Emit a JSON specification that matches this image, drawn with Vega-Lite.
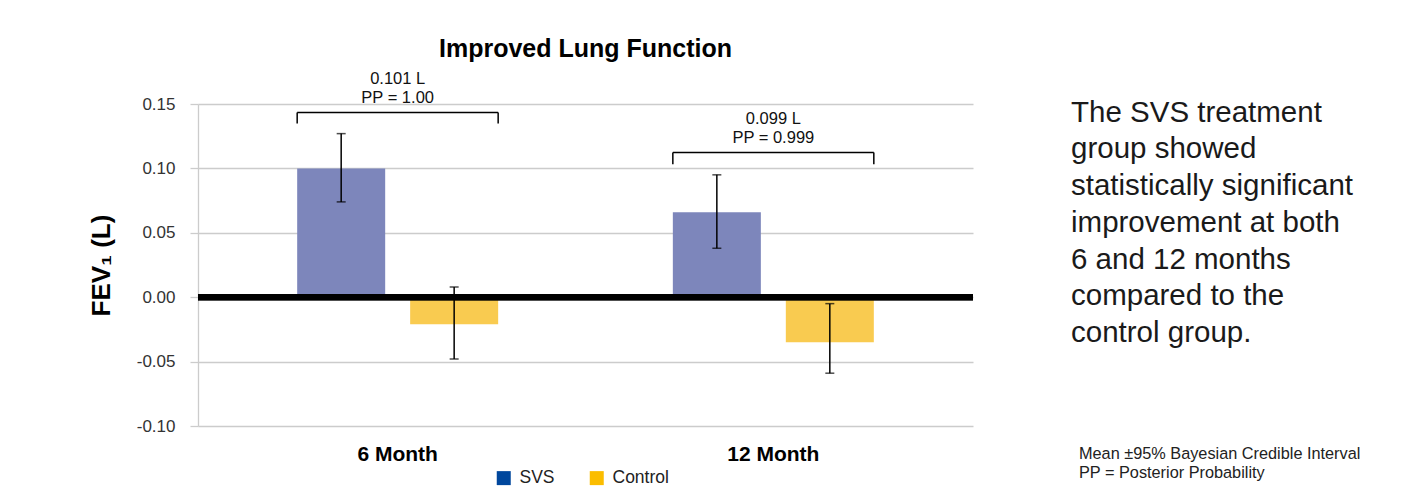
{
  "$schema": "https://vega.github.io/schema/vega-lite/v6.json",
  "background": "white",
  "padding": {"left": 88, "top": 36, "right": 5, "bottom": 5},
  "config": {"font": "Liberation Sans", "view": {"stroke": null}},
  "bounds": "flush",
  "spacing": 97,
  "hconcat": [
    {
      "width": 775,
      "height": 322,
      "title": {"text": "Improved Lung Function", "fontSize": 25, "fontWeight": "bold", "color": "#000000", "anchor": "middle", "frame": "group", "offset": 9},
      "data": {"values": [
        {"month": "6 Month", "group": "SVS", "mean": 0.100, "lo": 0.074, "hi": 0.127},
        {"month": "6 Month", "group": "Control", "mean": -0.021, "lo": -0.048, "hi": 0.008},
        {"month": "12 Month", "group": "SVS", "mean": 0.066, "lo": 0.038, "hi": 0.095},
        {"month": "12 Month", "group": "Control", "mean": -0.035, "lo": -0.059, "hi": -0.005}
      ]},
      "layer": [
        {
          "mark": {"type": "point", "shape": "square", "filled": true, "opacity": 0},
          "encoding": {
            "x": {"field": "month", "type": "nominal", "sort": ["6 Month", "12 Month"], "title": null,
              "scale": {"type": "band", "paddingInner": 0.465, "paddingOuter": 0.264},
              "axis": {"domain": false, "ticks": false, "tickSize": 0, "labelAngle": 0, "labelFontSize": 21, "labelFontWeight": "bold", "labelColor": "#000000", "labelPadding": 17}},
            "xOffset": {"field": "group", "type": "nominal", "sort": ["SVS", "Control"], "scale": {"type": "band", "paddingInner": 0.221, "paddingOuter": 0}},
            "y": {"field": "mean", "type": "quantitative", "title": "FEV₁ (L)",
              "scale": {"domain": [-0.1, 0.15], "nice": false, "zero": false}},
            "fill": {"field": "group", "type": "nominal",
              "scale": {"domain": ["SVS", "Control"], "range": ["#00479d", "#fbbd00"]},
              "legend": {"orient": "none", "legendX": 297, "legendY": 365, "direction": "horizontal", "title": null,
                "symbolType": "square", "symbolSize": 196, "symbolStrokeWidth": 0, "symbolOpacity": 1,
                "labelFontSize": 17.5, "labelColor": "#222222", "labelOffset": 7, "columnPadding": 33, "padding": 0}}
          }
        },
        {
          "mark": {"type": "bar"},
          "encoding": {
            "x": {"field": "month", "type": "nominal", "sort": ["6 Month", "12 Month"], "title": null,
              "scale": {"type": "band", "paddingInner": 0.465, "paddingOuter": 0.264},
              "axis": {"domain": false, "ticks": false, "tickSize": 0, "labelAngle": 0, "labelFontSize": 21, "labelFontWeight": "bold", "labelColor": "#000000", "labelPadding": 17}},
            "xOffset": {"field": "group", "type": "nominal", "sort": ["SVS", "Control"], "scale": {"type": "band", "paddingInner": 0.221, "paddingOuter": 0}},
            "y": {"field": "mean", "type": "quantitative", "title": "FEV₁ (L)",
              "scale": {"domain": [-0.1, 0.15], "nice": false, "zero": false},
              "axis": {"values": [-0.1, -0.05, 0, 0.05, 0.1, 0.15],
                "labelExpr": "(datum.value < -0.0001 ? '-' : '') + format(abs(datum.value), '.2f')",
                "gridColor": "#cccccc", "gridWidth": 1.3, "domainColor": "#cccccc", "domainWidth": 1.3,
                "tickColor": "#cccccc", "tickWidth": 1.3, "tickSize": 8,
                "labelFontSize": 17, "labelColor": "#333333", "labelPadding": 15,
                "titleFontSize": 26, "titleFontWeight": "bold", "titleColor": "#000000", "titlePadding": 22}},
            "color": {"field": "group", "type": "nominal",
              "scale": {"domain": ["SVS", "Control"], "range": ["#7d86bb", "#f9cb50"]},
              "legend": null}
          }
        },
        {
          "mark": {"type": "rule", "color": "#000000", "strokeWidth": 6},
          "encoding": {"y": {"datum": 0, "type": "quantitative", "title": "FEV₁ (L)"}}
        },
        {
          "mark": {"type": "rule", "color": "#000000", "strokeWidth": 1.5},
          "encoding": {
            "x": {"field": "month", "type": "nominal", "sort": ["6 Month", "12 Month"], "title": null},
            "xOffset": {"field": "group", "type": "nominal", "sort": ["SVS", "Control"]},
            "y": {"field": "lo", "type": "quantitative", "title": "FEV₁ (L)"},
            "y2": {"field": "hi"}
          }
        },
        {
          "mark": {"type": "tick", "color": "#000000", "thickness": 1.5, "size": 9, "orient": "horizontal"},
          "encoding": {
            "x": {"field": "month", "type": "nominal", "sort": ["6 Month", "12 Month"], "title": null},
            "xOffset": {"field": "group", "type": "nominal", "sort": ["SVS", "Control"]},
            "y": {"field": "lo", "type": "quantitative", "title": "FEV₁ (L)"}
          }
        },
        {
          "mark": {"type": "tick", "color": "#000000", "thickness": 1.5, "size": 9, "orient": "horizontal"},
          "encoding": {
            "x": {"field": "month", "type": "nominal", "sort": ["6 Month", "12 Month"], "title": null},
            "xOffset": {"field": "group", "type": "nominal", "sort": ["SVS", "Control"]},
            "y": {"field": "hi", "type": "quantitative", "title": "FEV₁ (L)"}
          }
        },
        {
          "data": {"values": [
            {"month": "6 Month", "label": "0.101 L\nPP = 1.00", "top": 0.1434, "end": 0.1349},
            {"month": "12 Month", "label": "0.099 L\nPP = 0.999", "top": 0.1123, "end": 0.1032}
          ]},
          "layer": [
            {
              "mark": {"type": "rule", "color": "#000000", "strokeWidth": 1.5},
              "encoding": {
                "x": {"field": "month", "type": "nominal", "sort": ["6 Month", "12 Month"], "title": null, "bandPosition": 0},
                "x2": {"field": "month", "bandPosition": 1},
                "y": {"field": "top", "type": "quantitative", "title": "FEV₁ (L)"}
              }
            },
            {
              "mark": {"type": "rule", "color": "#000000", "strokeWidth": 1.5},
              "encoding": {
                "x": {"field": "month", "type": "nominal", "sort": ["6 Month", "12 Month"], "title": null, "bandPosition": 0},
                "y": {"field": "top", "type": "quantitative", "title": "FEV₁ (L)"},
                "y2": {"field": "end"}
              }
            },
            {
              "mark": {"type": "rule", "color": "#000000", "strokeWidth": 1.5},
              "encoding": {
                "x": {"field": "month", "type": "nominal", "sort": ["6 Month", "12 Month"], "title": null, "bandPosition": 1},
                "y": {"field": "top", "type": "quantitative", "title": "FEV₁ (L)"},
                "y2": {"field": "end"}
              }
            },
            {
              "mark": {"type": "text", "lineBreak": "\n", "fontSize": 16.5, "lineHeight": 19.5, "baseline": "alphabetic", "align": "center", "dy": -29, "color": "#111111"},
              "encoding": {
                "x": {"field": "month", "type": "nominal", "sort": ["6 Month", "12 Month"], "title": null},
                "y": {"field": "top", "type": "quantitative", "title": "FEV₁ (L)"},
                "text": {"field": "label"}
              }
            }
          ]
        }
      ]
    },
    {
      "bounds": "flush",
      "spacing": 112,
      "vconcat": [
        {
          "width": 2,
          "height": 237.6,
          "data": {"values": [
            {"line": 1, "text": "The SVS treatment"},
            {"line": 2, "text": "group showed"},
            {"line": 3, "text": "statistically significant"},
            {"line": 4, "text": "improvement at both"},
            {"line": 5, "text": "6 and 12 months"},
            {"line": 6, "text": "compared to the"},
            {"line": 7, "text": "control group."}
          ]},
          "mark": {"type": "text", "align": "left", "baseline": "middle", "fontSize": 29.5, "color": "#1a1a1a"},
          "encoding": {
            "y": {"field": "line", "type": "ordinal", "scale": {"type": "point", "padding": 0.237}, "axis": null},
            "text": {"field": "text"}
          }
        },
        {
          "width": 18,
          "height": 19,
          "data": {"values": [
            {"line": 1, "text": "Mean ±95% Bayesian Credible Interval"},
            {"line": 2, "text": "PP = Posterior Probability"}
          ]},
          "mark": {"type": "text", "align": "left", "baseline": "middle", "fontSize": 16.3, "color": "#222222"},
          "encoding": {
            "y": {"field": "line", "type": "ordinal", "scale": {"type": "point", "padding": 0}, "axis": null},
            "text": {"field": "text"}
          }
        }
      ]
    }
  ]
}
